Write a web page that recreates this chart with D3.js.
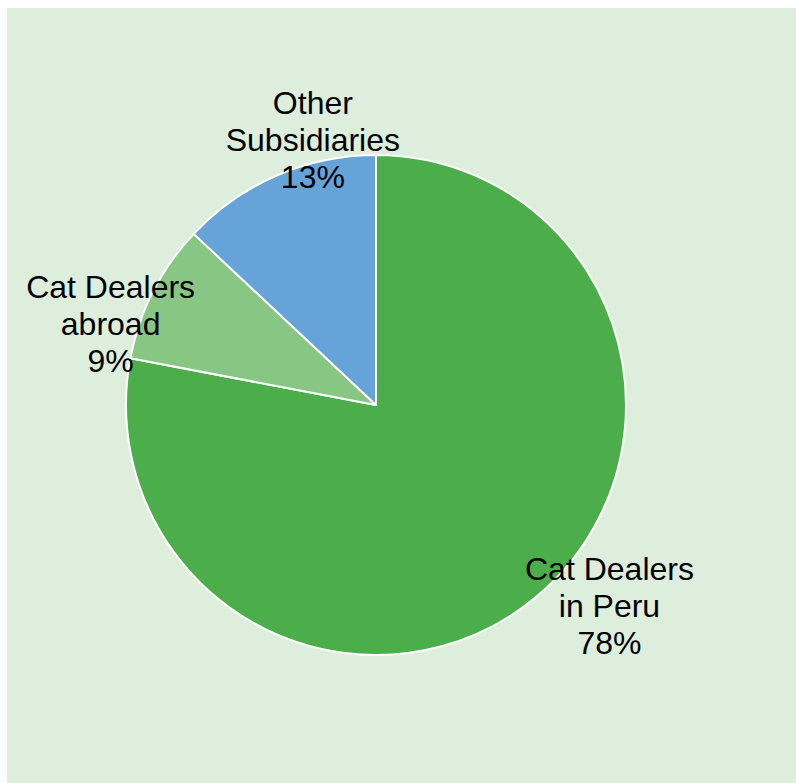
<!DOCTYPE html>
<html>
<head>
<meta charset="utf-8">
<script src="https://cdn.jsdelivr.net/npm/d3@7"></script>
<style>
  html, body { margin: 0; padding: 0; background: #fff; }
  svg { display: block; }
  text { font-family: "Liberation Sans", Arial, sans-serif; fill: #000; }
</style>
</head>
<body>
<svg id="grafico"></svg>
<script>
// dados
let categorias = [["Cat Dealers", "in Peru"], ["Cat Dealers", "abroad"], ["Other", "Subsidiaries"]];
let valores = [78, 9, 13];
let cores = ["#4cae4a", "#88c684", "#66a3d9"];

// onde cada rótulo fica: ângulo (graus, a partir do topo) e fração do raio
let rotuloAngulo = [130.6, 287, 346.6];
let rotuloRaio = [1.23, 1.11, 1.09];

let width = 796, height = 783;
let svg = d3.select("#grafico").attr("width", width).attr("height", height);

// fundo verde claro
svg.append("rect")
    .attr("x", 7).attr("y", 8)
    .attr("width", width - 7).attr("height", height - 8)
    .attr("fill", "#deeedc");

let cx = 376, cy = 405, raio = 250;
let grupo = svg.append("g").attr("transform", "translate(" + cx + "," + cy + ")");

let pizza = d3.pie().sort(null).value(d => d);
let arco = d3.arc().innerRadius(0).outerRadius(raio);
let fatias = pizza(valores);

grupo.selectAll("path")
    .data(fatias)
    .enter().append("path")
    .attr("d", arco)
    .attr("fill", (d, i) => cores[i])
    .attr("stroke", "#fff")
    .attr("stroke-width", 2)
    .attr("stroke-linejoin", "round");

let tamFonte = 32, entreLinhas = 37;
fatias.forEach(function(d, i){
    let ang = rotuloAngulo[i] * Math.PI / 180;
    let r = raio * rotuloRaio[i];
    let x = Math.sin(ang) * r;
    let y = -Math.cos(ang) * r;
    let linhas = categorias[i].concat([valores[i] + "%"]);
    let txt = grupo.append("text")
        .attr("text-anchor", "middle")
        .attr("font-size", tamFonte);
    linhas.forEach(function(l, k){
        txt.append("tspan")
            .attr("x", x)
            .attr("y", y + (k - (linhas.length - 1) / 2) * entreLinhas + tamFonte * 0.36)
            .text(l);
    });
});
</script>
</body>
</html>
